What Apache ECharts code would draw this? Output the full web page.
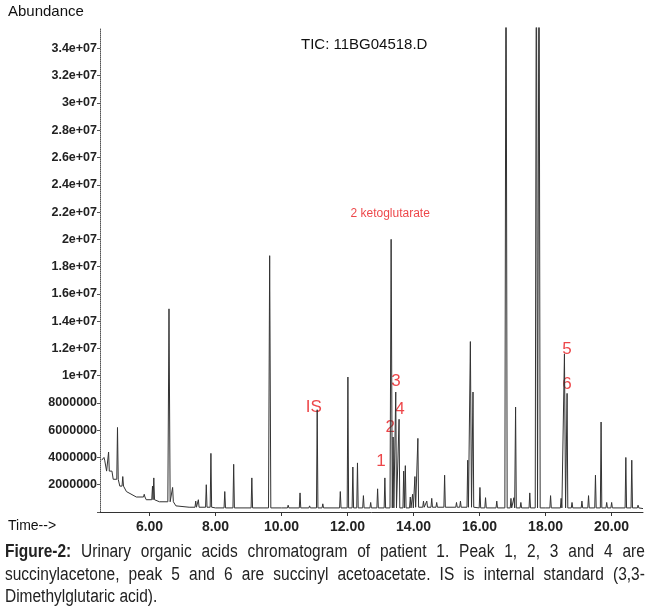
<!DOCTYPE html>
<html><head><meta charset="utf-8">
<script src="https://cdn.jsdelivr.net/npm/echarts@6/dist/echarts.min.js"></script>
<style>
body{margin:0;background:#fff;}
#c{width:650px;height:614px;}
#cap{position:absolute;left:5px;top:540px;width:744px;transform:scaleX(0.86);transform-origin:0 0;font-family:"Liberation Sans",sans-serif;font-size:18px;line-height:22.5px;color:#222;}
#cap div{text-align:justify;text-align-last:justify;white-space:nowrap;}
#cap div.l{text-align-last:left;}
</style></head><body>
<div id="c"></div>
<div id="cap"><div><b>Figure-2:</b> Urinary organic acids chromatogram of patient 1. Peak 1, 2, 3 and 4 are</div><div>succinylacetone, peak 5 and 6 are succinyl acetoacetate. IS is internal standard (3,3-</div><div class="l">Dimethylglutaric acid).</div></div>
<script>
// baseline readings (time, abundance)
const baseT = [4.55,4.7,4.9,5.1,5.3,5.6,5.9,6.3,6.8,7.2,8,10,12,14,16,18,20,20.95];
const baseV = [3.8e6,3.0e6,2.4e6,1.9e6,1.5e6,1.1e6,0.9e6,0.75e6,0.45e6,0.35e6,0.3e6,0.3e6,0.3e6,0.35e6,0.3e6,0.3e6,0.3e6,0.25e6];
// peaks (retention time, apex abundance)
const peakT = [4.62,4.76,4.84,5.03,5.19,5.84,6.09,6.13,6.59,6.70,7.40,7.48,7.72,7.86,8.28,8.55,9.10,9.64,10.20,10.56,10.85,11.08,11.25,11.78,12.01,12.16,12.30,12.48,12.70,12.91,13.13,13.32,13.38,13.46,13.56,13.70,13.75,13.90,13.97,14.04,14.13,14.30,14.40,14.55,14.70,14.94,15.30,15.42,15.64,15.72,15.80,16.01,16.18,16.52,16.80,16.95,17.04,17.09,17.25,17.52,17.72,17.80,18.15,18.47,18.57,18.65,18.80,19.10,19.30,19.51,19.68,19.85,20.00,20.43,20.61,20.80];
const peakV = [4.0e6,4.4e6,3.1e6,6.2e6,2.6e6,1.3e6,1.9e6,2.5e6,14.9e6,1.8e6,0.8e6,0.9e6,2.0e6,4.3e6,1.5e6,3.5e6,2.5e6,18.8e6,0.5e6,1.4e6,0.45e6,7.5e6,0.6e6,1.5e6,9.9e6,3.3e6,3.6e6,1.2e6,0.7e6,1.7e6,2.5e6,20.0e6,5.5e6,8.8e6,6.8e6,3.0e6,3.4e6,1.1e6,1.3e6,2.6e6,5.4e6,0.8e6,0.8e6,1.0e6,0.7e6,2.7e6,0.7e6,0.8e6,3.8e6,12.5e6,8.8e6,1.8e6,1.05e6,0.8e6,45e6,1.0e6,1.05e6,7.7e6,0.7e6,1.4e6,45e6,45e6,1.2e6,1.0e6,11.6e6,8.7e6,0.7e6,0.8e6,1.2e6,2.7e6,6.6e6,0.7e6,0.7e6,4.0e6,3.8e6,0.5e6];
// annotations
const noteText = ["2 ketoglutarate","IS","1","2","3","4","5","6"];
const noteT = [13.29,10.98,13.01,13.29,13.47,13.59,18.65,18.65];
const noteV = [21.9e6,7.7e6,3.7e6,6.2e6,9.6e6,7.5e6,11.9e6,9.35e6];
const xTicks = [6,8,10,12,14,16,18,20];

function baseAt(t){let v=baseV[0];for(let i=0;i<baseT.length;i++){if(baseT[i]<=t)v=baseV[i];}return v;}
const pts=[];
baseT.forEach((t,i)=>pts.push([t,baseV[i]]));
peakT.forEach((t,i)=>{const w=peakV[i]>1e7?0.035:0.022;const b=baseAt(t);pts.push([t-w,b]);pts.push([t,peakV[i]]);pts.push([t+w,b]);});
pts.sort((a,b)=>a[0]-b[0]);

function yfmt(v){if(v===0)return '';if(v<1e7)return String(v);let s=(v/1e7).toString();return s+'e+07';}
const chart=echarts.init(document.getElementById('c'));
chart.setOption({
  animation:false,
  grid:{left:100,right:7,top:28,bottom:102},
  xAxis:{type:'value',min:4.5,max:20.95,
    axisLine:{lineStyle:{color:'#333'}},splitLine:{show:false},
    axisTick:{customValues:xTicks,length:4,lineStyle:{color:'#333'}},
    axisLabel:{customValues:xTicks,formatter:v=>v.toFixed(2),fontFamily:'Liberation Sans',fontWeight:'bold',fontSize:14,color:'#222',margin:8}},
  yAxis:{type:'value',min:0,max:3.55e7,interval:2e6,
    axisLine:{show:true,lineStyle:{color:'#555',type:'dotted'}},splitLine:{show:false},
    axisTick:{show:true,length:3,lineStyle:{color:'#555'}},
    axisLabel:{formatter:yfmt,showMaxLabel:false,fontFamily:'Liberation Sans',fontWeight:'bold',fontSize:12.5,color:'#222',margin:3}},
  graphic:[
    {type:'text',left:8,top:4,style:{text:'Abundance',font:'15px Liberation Sans',fill:'#111'}},
    {type:'text',left:8,top:519,style:{text:'Time-->',font:'14px Liberation Sans',fill:'#111'}},
    {type:'text',left:301,top:37,style:{text:'TIC: 11BG04518.D',font:'15px Liberation Sans',fill:'#111'}}
  ],
  series:[
    {type:'line',data:pts,showSymbol:false,clip:true,lineStyle:{color:'#333',width:1}},
    {type:'scatter',symbolSize:0,
     data:noteT.map((t,i)=>({value:[t,noteV[i]],name:noteText[i],label:i===0?{fontSize:12}:{}})),
     label:{show:true,position:'inside',formatter:p=>p.name,color:'#e8181c',
       fontFamily:'Liberation Sans',fontSize:17}}
  ]
});
</script>
</body></html>
